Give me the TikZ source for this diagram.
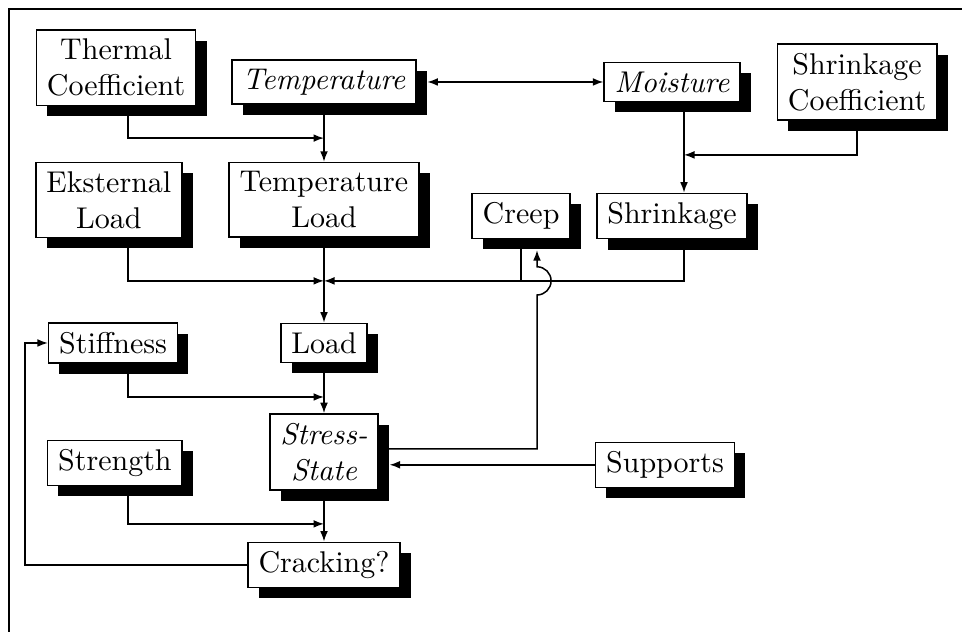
\documentclass[tikz,border=0pt]{standalone}
\usepackage{tikz}
\usetikzlibrary{arrows.meta}
\usetikzlibrary{positioning}
\usetikzlibrary{shadows}

\tikzset{
  box/.style={draw, fill=white, line width=.5pt, inner xsep=3.5pt, inner ysep=3pt,
    align=center,
    drop shadow={shadow xshift=3.6pt, shadow yshift=-3.6pt, fill=black, opacity=1}},
  flow/.style={line width=.5pt},
}

\begin{document}
\begin{tikzpicture}[on grid, >={Latex[length=3.5pt,width=2.6pt]}]

  \useasboundingbox (-108pt,27.33pt) rectangle (212.67pt,-183.33pt);
  \draw[line width=.7pt] (212.67pt,24.3pt) -- (-105pt,24.3pt) -- (-105pt,-183.33pt);

  \node[box, font=\itshape] (temp) {Temperature};
  \node[box] (thermal) [above left=4.7pt and 69.3pt of temp] {Thermal\\Coefficient};
  \node[box, font=\itshape] (moist) [right=116pt of temp] {Moisture};
  \node[box] (shrcoef) [right=61.7pt of moist] {Shrinkage\\Coefficient};
  \node[box] (tload) [below=39.3pt of temp] {Temperature\\Load};
  \node[box] (extload) [left=71.7pt of tload] {Eksternal\\Load};
  \node[box] (shrink) [below=44.7pt of moist] {Shrinkage};
  \node[box] (creep) [left=50.3pt of shrink] {Creep};
  \node[box] (load) [below=47.7pt of tload] {Load};
  \node[box] (stiff) [left=70.3pt of load] {Stiffness};
  \node[box, font=\itshape] (stress) [below=36.3pt of load] {Stress-\\State};
  \node[box] (strength) [below left=3.7pt and 69.7pt of stress] {Strength};
  \node[box] (supports) [below right=4.3pt and 113.7pt of stress] {Supports};
  \node[box] (crack) [below=37.7pt of stress] {Cracking?};

  % junctions
  \coordinate[below=18.7pt of temp] (jtherm);
  \coordinate[below=27pt of tload] (jload);
  \coordinate[below=18pt of load] (jstiff);
  \coordinate[below=24pt of stress] (jstren);
  \coordinate[below=24.3pt of moist, xshift=4pt] (jshr);
  \coordinate[right=4pt of thermal] (lcol);
  \coordinate (hop) at ([xshift=5.3pt]creep.south |- jload);

  \draw[flow,<->] ([xshift=3.6pt]temp.east) -- (moist.west);
  \draw[flow,->] (thermal.south -| lcol) |- (jtherm);
  \draw[flow,->] (temp) -- (tload);
  \draw[flow,->] (moist.south -| jshr) -- (shrink.north -| jshr);
  \draw[flow,->] (shrcoef) |- (jshr);

  \draw[flow,->] (tload) -- (load);
  \draw[flow,->] (extload.south -| lcol) |- (jload);
  \draw[flow,->] (shrink.south -| jshr) |- (jload);
  \draw[flow] (creep) -- (creep |- jload);

  \draw[flow,->] (load) -- (stress);
  \draw[flow,->] (stiff.south -| lcol) |- (jstiff);
  \draw[flow,->] (stress) -- (crack);
  \draw[flow,->] (strength.south -| lcol) |- (jstren);
  \draw[flow,->] (supports.west) -- ([xshift=3.6pt]stress.east |- supports.west);

  \draw[flow,->] ([yshift=1pt]stress.east) -| ([yshift=-4.7pt]hop)
    arc[start angle=-90, end angle=90, radius=4.7pt]
    -- ([xshift=5.3pt,yshift=-3.6pt]creep.south);
  \draw[flow,->] (crack.west) -| ([xshift=-7.7pt]stiff.west) -- (stiff.west);

\end{tikzpicture}
\end{document}
